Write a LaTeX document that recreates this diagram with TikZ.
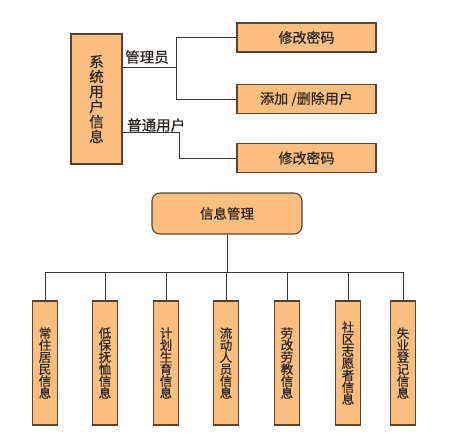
\documentclass[tikz,border=0pt]{standalone}
\usepackage{fontspec}
\newfontfamily\cjk[FakeBold=0.6]{Noto Sans CJK SC}
\definecolor{boxfill}{HTML}{FDBF80}
\definecolor{boxline}{HTML}{5A4232}
\definecolor{wire}{HTML}{383838}
\definecolor{ink}{HTML}{2A2420}
\begin{document}
\begin{tikzpicture}[x=1pt, y=-1pt,
  box/.style={draw=boxline, fill=boxfill, line width=1.1pt, inner sep=0pt, align=center, text=ink},
  topbox/.style={box, minimum width=139pt, minimum height=29pt, font=\cjk\fontsize{14}{14}\selectfont},
  leafbox/.style={box, minimum width=25pt, minimum height=124pt, font=\cjk\fontsize{12.5}{12}\selectfont},
  wirestyle/.style={draw=wire, line width=0.9pt},
  lbl/.style={inner sep=0pt, anchor=west, text=ink, font=\cjk\fontsize{14.5}{14}\selectfont}]
\useasboundingbox (0,0) rectangle (469,432);
% user part
\node[box, minimum width=51pt, minimum height=130pt, font=\cjk\fontsize{14.5}{15}\selectfont] (sys) at (96.5,99) {系\\统\\用\\户\\信\\息};
\node[topbox] (pwda) at (306.5,37.5) {修改密码};
\node[topbox] (adduser) at (306.5,99) {添加 /删除用户};
\node[topbox] (pwdb) at (306.5,158) {修改密码};
\coordinate (adminjoint) at (176,67);
\coordinate (userjoint) at (179,132);
\draw[wirestyle] (sys.east |- adminjoint) -- (adminjoint);
\draw[wirestyle] (pwda.west) -| (adminjoint);
\draw[wirestyle] (adduser.west) -| (adminjoint);
\draw[wirestyle] (sys.east |- userjoint) -- (userjoint) |- (pwdb.west);
\node[lbl] (admin) at (125,57) {管理员};
\node[lbl] (normal) at (127,125) {普通用户};
% info part
\node[box, rounded corners=8pt, minimum width=150pt, minimum height=41pt, font=\cjk\fontsize{13.5}{14}\selectfont] (info) at (227,213.5) {信息管理};
\coordinate (bus) at (227,272);
\foreach \x/\name/\txt in {45/resident/常\\住\\居\\民\\信\\息, 105/allowance/低\\保\\抚\\恤\\信\\息, 166/birth/计\\划\\生\\育\\信\\息, 226/floating/流\\动\\人\\员\\信\\息, 287/labour/劳\\改\\劳\\教\\信\\息, 348/volunteer/社\\区\\志\\愿\\者\\信\\息, 403/jobless/失\\业\\登\\记\\信\\息}{
  \node[leafbox] (\name) at (\x,363) {\txt};
  \draw[wirestyle] (\name.north) -- (\name.north |- bus);
}
\draw[wirestyle] (info.south) -- (bus);
\draw[wirestyle] (resident.north |- bus) -- (jobless.north |- bus);
\end{tikzpicture}
\end{document}
